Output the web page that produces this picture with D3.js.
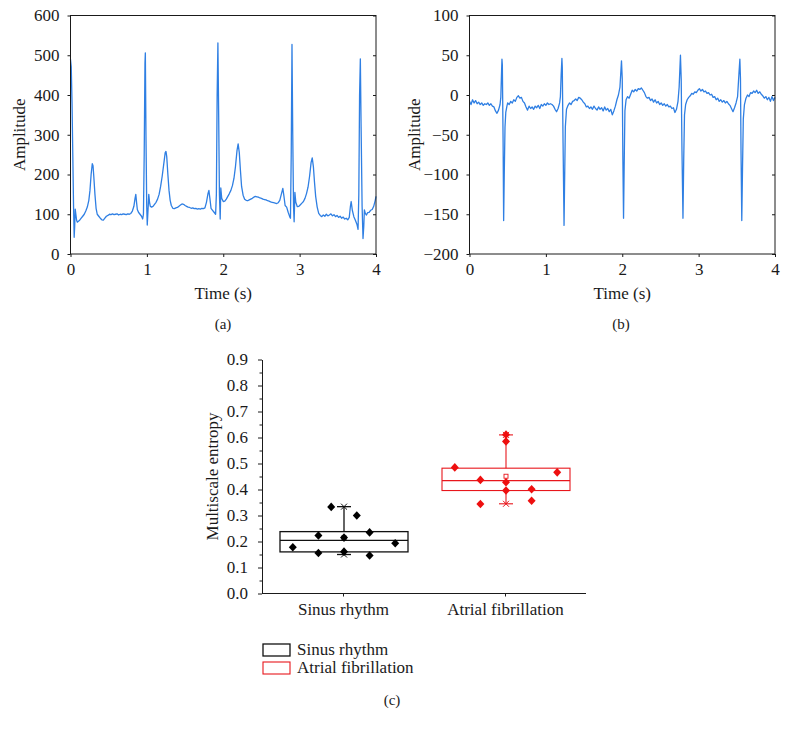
<!DOCTYPE html>
<html><head><meta charset="utf-8">
<script src="https://cdn.jsdelivr.net/npm/d3@7"></script>
<style>
body{margin:0;background:#fff}
text{font-family:"Liberation Serif","Times New Roman",serif;fill:#1a1a1a}
</style>
</head><body>
<svg id="chart" width="788" height="732"></svg>
<script>
// ---------- DATA ----------
// Panel (a): ECG sinus rhythm, [time (s), amplitude]
const ecgSinus = [
[0.000,490],[0.010,470],[0.020,380],[0.030,250],[0.040,120],[0.048,42],[0.055,70],[0.062,113],[0.070,100],[0.080,85],
[0.090,80],[0.100,82],[0.120,85],[0.140,90],[0.160,95],[0.180,100],[0.200,108],[0.220,118],[0.240,135],[0.255,160],
[0.270,200],[0.285,227],[0.295,222],[0.305,195],[0.320,150],[0.335,115],[0.350,100],[0.370,95],[0.390,90],[0.410,86],
[0.430,85],[0.450,90],[0.470,95],[0.490,97],[0.510,100],[0.530,99],[0.550,101],[0.570,99],[0.590,100],[0.610,101],
[0.630,98],[0.650,100],[0.670,99],[0.690,101],[0.710,100],[0.730,99],[0.750,101],[0.770,100],[0.790,102],[0.810,108],
[0.830,120],[0.845,140],[0.855,150],[0.865,130],[0.875,112],[0.890,105],[0.910,100],[0.930,95],[0.945,88],[0.955,100],
[0.965,250],[0.975,480],[0.980,506],[0.988,300],[0.998,120],[1.005,73],[1.015,110],[1.025,150],[1.035,130],[1.045,120],
[1.060,118],[1.080,120],[1.100,125],[1.120,130],[1.140,138],[1.160,150],[1.180,170],[1.200,195],[1.220,225],[1.240,255],
[1.250,258],[1.260,245],[1.275,200],[1.290,160],[1.305,135],[1.320,122],[1.340,115],[1.360,114],[1.380,116],[1.400,117],
[1.420,120],[1.440,123],[1.460,126],[1.480,125],[1.500,122],[1.520,120],[1.540,118],[1.560,117],[1.580,115],[1.600,116],
[1.620,114],[1.640,115],[1.660,113],[1.680,114],[1.700,113],[1.720,115],[1.740,114],[1.760,116],[1.780,130],[1.800,152],
[1.812,160],[1.825,140],[1.840,115],[1.860,110],[1.880,105],[1.900,100],[1.910,150],[1.920,400],[1.930,531],[1.940,350],
[1.950,150],[1.960,88],[1.968,166],[1.980,140],[2.000,132],[2.020,133],[2.040,138],[2.060,145],[2.080,152],[2.100,160],
[2.120,172],[2.140,190],[2.160,220],[2.180,260],[2.195,277],[2.210,255],[2.225,210],[2.240,170],[2.260,148],[2.280,138],
[2.300,135],[2.320,134],[2.340,136],[2.360,138],[2.380,140],[2.400,143],[2.420,145],[2.440,144],[2.460,143],[2.480,141],
[2.500,140],[2.520,138],[2.540,137],[2.560,136],[2.580,134],[2.600,133],[2.620,131],[2.640,130],[2.660,129],[2.680,128],
[2.700,127],[2.720,129],[2.740,135],[2.760,150],[2.780,165],[2.795,145],[2.810,122],[2.830,118],[2.850,105],[2.870,94],
[2.880,90],[2.890,250],[2.900,527],[2.910,300],[2.920,120],[2.928,81],[2.938,155],[2.950,130],[2.970,119],[2.990,120],
[3.010,124],[3.030,128],[3.050,132],[3.070,140],[3.090,152],[3.110,168],[3.130,195],[3.150,230],[3.165,242],[3.180,220],
[3.195,180],[3.210,145],[3.230,118],[3.250,102],[3.270,97],[3.290,94],[3.310,98],[3.330,95],[3.350,100],[3.370,96],
[3.390,98],[3.410,101],[3.430,96],[3.450,99],[3.470,94],[3.490,97],[3.510,92],[3.530,95],[3.550,90],[3.570,93],
[3.590,88],[3.610,90],[3.630,86],[3.650,92],[3.665,120],[3.675,132],[3.690,110],[3.710,94],[3.730,85],[3.750,75],
[3.765,62],[3.775,150],[3.785,400],[3.795,491],[3.805,320],[3.818,120],[3.830,39],[3.840,70],[3.848,111],[3.860,102],
[3.875,98],[3.890,104],[3.910,105],[3.930,110],[3.950,112],[3.970,120],[3.990,135],[4.000,145]
];

// Panel (b): ECG atrial fibrillation, [time (s), amplitude]
const ecgAF = [
[0.00,-8],[0.02,-12],[0.04,-6],[0.06,-10],[0.08,-7],[0.10,-11],[0.12,-9],[0.14,-12],[0.16,-10],[0.18,-13],
[0.20,-11],[0.22,-12],[0.24,-10],[0.26,-13],[0.28,-11],[0.30,-14],[0.32,-15],[0.34,-20],[0.36,-23],[0.38,-19],
[0.40,-12],[0.41,-3],[0.42,30],[0.425,45],[0.43,38],[0.44,-60],[0.447,-158],[0.455,-100],[0.465,-40],[0.475,-22],
[0.49,-14],[0.50,-10],[0.52,-12],[0.54,-8],[0.56,-10],[0.58,-6],[0.60,-8],[0.62,-3],[0.64,-1],[0.66,-4],
[0.68,-3],[0.70,-8],[0.72,-10],[0.74,-15],[0.76,-19],[0.78,-14],[0.80,-17],[0.82,-15],[0.84,-18],[0.86,-14],
[0.88,-16],[0.90,-13],[0.92,-17],[0.94,-12],[0.96,-14],[0.98,-11],[1.00,-13],[1.02,-10],[1.04,-12],[1.06,-11],
[1.08,-12],[1.10,-14],[1.12,-18],[1.14,-21],[1.16,-17],[1.18,-10],[1.19,-2],[1.20,25],[1.21,46],[1.215,35],
[1.225,-60],[1.238,-164],[1.245,-110],[1.255,-40],[1.27,-18],[1.29,-13],[1.31,-10],[1.33,-12],[1.35,-8],[1.37,-7],
[1.39,-5],[1.41,-7],[1.43,-3],[1.45,-4],[1.47,-6],[1.49,-9],[1.51,-11],[1.53,-15],[1.55,-14],[1.57,-17],
[1.59,-15],[1.61,-18],[1.63,-14],[1.65,-17],[1.67,-19],[1.69,-15],[1.71,-18],[1.73,-16],[1.75,-20],[1.77,-15],
[1.79,-19],[1.81,-17],[1.83,-21],[1.85,-18],[1.87,-25],[1.89,-20],[1.91,-14],[1.93,-6],[1.95,0],[1.97,10],
[1.99,43],[2.00,20],[2.008,-80],[2.017,-155],[2.025,-90],[2.035,-20],[2.05,-6],[2.07,-2],[2.09,-4],[2.11,1],
[2.13,6],[2.15,4],[2.17,7],[2.19,5],[2.21,8],[2.23,7],[2.25,9],[2.27,6],[2.29,3],[2.31,-2],
[2.33,-4],[2.35,-3],[2.37,-7],[2.39,-5],[2.41,-9],[2.43,-6],[2.45,-10],[2.47,-8],[2.49,-12],[2.51,-10],
[2.53,-13],[2.55,-11],[2.57,-14],[2.59,-12],[2.61,-15],[2.63,-14],[2.65,-17],[2.67,-16],[2.69,-22],[2.71,-18],
[2.73,-8],[2.745,10],[2.762,50],[2.772,20],[2.782,-70],[2.795,-155],[2.805,-80],[2.815,-25],[2.83,-12],[2.85,-6],
[2.87,-3],[2.89,-1],[2.91,2],[2.93,1],[2.95,4],[2.97,3],[2.99,6],[3.01,8],[3.03,5],[3.05,7],
[3.07,4],[3.09,5],[3.11,2],[3.13,3],[3.15,0],[3.17,1],[3.19,-3],[3.21,-2],[3.23,-6],[3.25,-4],
[3.27,-8],[3.29,-6],[3.31,-9],[3.33,-7],[3.35,-10],[3.37,-8],[3.39,-11],[3.41,-13],[3.43,-17],[3.45,-21],
[3.47,-16],[3.49,-10],[3.51,-2],[3.53,30],[3.54,45],[3.548,20],[3.555,-70],[3.565,-158],[3.575,-90],[3.585,-30],
[3.60,-12],[3.62,-4],[3.64,0],[3.66,-2],[3.68,3],[3.70,2],[3.72,5],[3.74,3],[3.76,6],[3.78,2],
[3.80,4],[3.82,1],[3.84,-1],[3.86,-4],[3.88,-2],[3.90,-6],[3.92,-3],[3.94,-8],[3.96,-2],[3.98,-7],[4.00,-3]
];

const timeTicks = [0, 1, 2, 3, 4];
const ampTicksA = [0, 100, 200, 300, 400, 500, 600];
const ampTicksB = [-200, -150, -100, -50, 0, 50, 100];

// Panel (c): multiscale entropy box plot
const groups = ["Sinus rhythm", "Atrial fibrillation"];
const boxQ1 = [0.160, 0.396];
const boxMedian = [0.204, 0.434];
const boxQ3 = [0.238, 0.482];
const whiskerLow = [0.150, 0.345];
const whiskerHigh = [0.334, 0.610];
const sinusValues = [0.178, 0.223, 0.156, 0.333, 0.215, 0.161, 0.300, 0.235, 0.146, 0.193];
const sinusLanes  = [-4, -2, -2, -1, 0, 0, 1, 2, 2, 4];
const afValues = [0.485, 0.437, 0.344, 0.611, 0.585, 0.428, 0.396, 0.401, 0.357, 0.466];
const afLanes  = [-4, -2, -2, 0, 0, 0, 0, 2, 2, 4];
const entropyTicks = [0, 0.1, 0.2, 0.3, 0.4, 0.5, 0.6, 0.7, 0.8, 0.9];
const panelLabels = ["(a)", "(b)", "(c)"];

// ---------- DRAW ----------
const svg = d3.select("#chart");
const FS = 17;
const BLUE = "#2f7fe3";
const RED = "#e8161c";
const AX = "#1a1a1a";

function styleAxis(g){
  g.selectAll(".domain").attr("stroke", AX);
  g.selectAll(".tick line").attr("stroke", AX);
  g.selectAll(".tick text").attr("font-size", FS).attr("font-family", '"Liberation Serif",serif').attr("fill", AX);
}

function ecgPanel(data, yDomain, yTicks, left, right, top, bottom, ylabelX){
  const x = d3.scaleLinear().domain([0,4]).range([left, right]);
  const y = d3.scaleLinear().domain(yDomain).range([bottom, top]);
  const g = svg.append("g");
  g.append("path").datum(data)
    .attr("fill","none").attr("stroke",BLUE).attr("stroke-width",1.3).attr("stroke-linejoin","round")
    .attr("d", d3.line().x(d=>x(d[0])).y(d=>y(d[1])));
  g.append("rect").attr("x",left).attr("y",top).attr("width",right-left).attr("height",bottom-top)
    .attr("fill","none").attr("stroke",AX).attr("stroke-width",1);
  g.append("g").attr("transform",`translate(0,${bottom})`)
    .call(d3.axisBottom(x).tickValues(timeTicks).tickFormat(d3.format("d")).tickSize(3).tickSizeOuter(0).tickPadding(6))
    .call(styleAxis).call(a=>a.select(".domain").remove());
  g.append("g").attr("transform",`translate(${left},0)`)
    .call(d3.axisLeft(y).tickValues(yTicks).tickFormat(d3.format("d")).tickSize(3).tickSizeOuter(0).tickPadding(8))
    .call(styleAxis).call(a=>a.select(".domain").remove());
  g.append("g").attr("transform",`translate(${right},0)`)
    .call(d3.axisRight(y).tickValues(yTicks).tickFormat("").tickSize(-3).tickSizeOuter(0))
    .call(styleAxis).call(a=>a.select(".domain").remove());
  g.append("text").attr("transform",`translate(${ylabelX},${(top+bottom)/2}) rotate(-90)`)
    .attr("text-anchor","middle").attr("font-size",FS).text("Amplitude");
  g.append("text").attr("x",(left+right)/2).attr("y",299)
    .attr("text-anchor","middle").attr("font-size",FS).text("Time (s)");
}

ecgPanel(ecgSinus, [0,600], ampTicksA, 70.5, 376, 15.5, 254, 25);
ecgPanel(ecgAF, [-200,100], ampTicksB, 469.5, 775, 15.5, 254, 420);

svg.append("text").attr("x",223).attr("y",329).attr("text-anchor","middle").attr("font-size",15).text(panelLabels[0]);
svg.append("text").attr("x",621).attr("y",329).attr("text-anchor","middle").attr("font-size",15).text(panelLabels[1]);

// ---- panel (c)
const cx = d3.scalePoint().domain(groups).range([262, 586]).padding(0.5);
const cy = d3.scaleLinear().domain([0, 0.9]).range([593.5, 359.5]);
const gc = svg.append("g");

gc.append("g").attr("transform","translate(262,0)")
  .call(d3.axisLeft(cy).tickValues(d3.range(0.05, 0.9, 0.1)).tickFormat("").tickSize(2.5).tickSizeOuter(0))
  .call(styleAxis).call(a=>a.select(".domain").remove());
gc.append("g").attr("transform","translate(262,0)")
  .call(d3.axisLeft(cy).tickValues(entropyTicks).tickFormat(d3.format(".1f")).tickSize(4).tickSizeOuter(0).tickPadding(10))
  .call(styleAxis);
gc.append("g").attr("transform","translate(0,593.5)")
  .call(d3.axisBottom(cx).tickSize(3).tickSizeOuter(0).tickPadding(6))
  .call(styleAxis)
  .call(a=>a.select(".domain").attr("d","M262,0H586"));

gc.append("text").attr("transform",`translate(218,${(359.5+593.5)/2}) rotate(-90)`)
  .attr("text-anchor","middle").attr("font-size",FS).text("Multiscale entropy");

const boxW = 128;
const laneStep = boxW/10;
const colors = ["#111111", RED];
const strokeW = [1.3, 1.1];
const pointSets = [
  sinusValues.map((v,i)=>({v, lane: sinusLanes[i]})),
  afValues.map((v,i)=>({v, lane: afLanes[i]}))
];

groups.forEach((grp, i) => {
  const c = cx(grp) + 1;
  const col = colors[i];
  const bg = gc.append("g").attr("stroke", col).attr("fill","none").attr("stroke-width", strokeW[i]);
  bg.append("line").attr("x1",c).attr("x2",c).attr("y1",cy(boxQ3[i])).attr("y2",cy(whiskerHigh[i]));
  bg.append("line").attr("x1",c).attr("x2",c).attr("y1",cy(boxQ1[i])).attr("y2",cy(whiskerLow[i]));
  [whiskerHigh[i], whiskerLow[i]].forEach(w => {
    bg.append("line").attr("x1",c-7).attr("x2",c+7).attr("y1",cy(w)).attr("y2",cy(w));
    const s = 3;
    bg.append("path").attr("stroke-width",1)
      .attr("d",`M${c-s},${cy(w)-s}L${c+s},${cy(w)+s}M${c-s},${cy(w)+s}L${c+s},${cy(w)-s}`);
  });
  bg.append("rect").attr("x",c-boxW/2).attr("y",cy(boxQ3[i])).attr("width",boxW)
    .attr("height",cy(boxQ1[i])-cy(boxQ3[i]));
  bg.append("line").attr("x1",c-boxW/2).attr("x2",c+boxW/2).attr("y1",cy(boxMedian[i])).attr("y2",cy(boxMedian[i]));
  const m = d3.mean(pointSets[i], d=>d.v);
  bg.append("rect").attr("x",c-2).attr("y",cy(m)-2).attr("width",4).attr("height",4).attr("stroke-width",0.9);
  gc.append("g").selectAll("path").data(pointSets[i]).join("path")
    .attr("fill", i===0 ? "#000" : "#ee0f0f")
    .attr("d", d => {
      const px = c + d.lane*laneStep, py = cy(d.v);
      return `M${px},${py-4.3}L${px+4},${py}L${px},${py+4.3}L${px-4},${py}Z`;
    });
});

const lg = svg.append("g");
groups.forEach((grp, i) => {
  const yy = 644 + i*18;
  lg.append("rect").attr("x",263).attr("y",yy).attr("width",27).attr("height",12)
    .attr("fill","#fff").attr("stroke",colors[i]).attr("stroke-width",strokeW[i]);
  lg.append("text").attr("x",297).attr("y",yy+10.5).attr("font-size",FS).text(grp);
});
svg.append("text").attr("x",392).attr("y",705).attr("text-anchor","middle").attr("font-size",15).text(panelLabels[2]);
</script>
</body></html>
